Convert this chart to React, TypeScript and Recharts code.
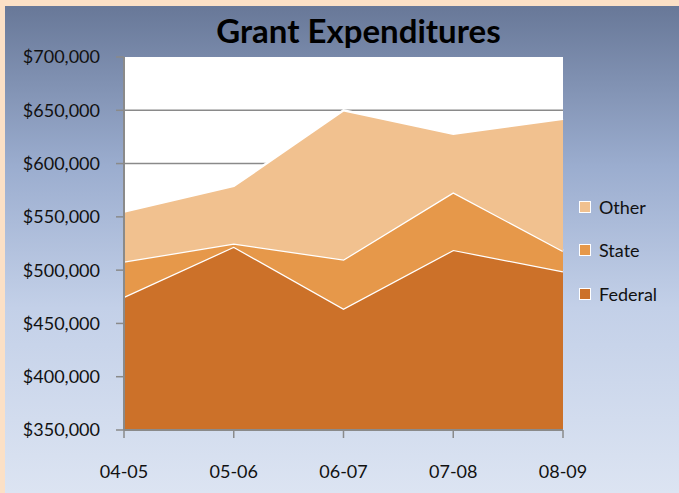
import { AreaChart, Area, XAxis, YAxis, CartesianGrid, Legend } from 'recharts';

const years = ['04-05', '05-06', '06-07', '07-08', '08-09'];
const federal = [475000, 522000, 464000, 519000, 499000];
const state = [33000, 3000, 46000, 54000, 19000];
const other = [47000, 54000, 140000, 55000, 124000];
const yTicks = [350000, 400000, 450000, 500000, 550000, 600000, 650000, 700000];

const data = years.map((year, i) => ({
  year,
  Federal: federal[i],
  State: state[i],
  Other: other[i],
}));

const colors: Record<string, string> = {
  Federal: '#CC7129',
  State: '#E6984A',
  Other: '#F1C18F',
};

const money = (v: number) => '$' + v.toLocaleString('en-US');

const LegendBox = () => (
  <div style={{ fontFamily: 'Lato, sans-serif', fontSize: 18, color: '#111' }}>
    {['Other', 'State', 'Federal'].map((name) => (
      <div key={name} style={{ display: 'flex', alignItems: 'center', height: 43.5 }}>
        <span
          style={{
            width: 10,
            height: 10,
            background: colors[name],
            border: '1px solid #fff',
            marginRight: 8,
          }}
        />
        {name}
      </div>
    ))}
  </div>
);

export default function App() {
  return (
    <div
      style={{
        position: 'fixed',
        left: 0,
        top: 0,
        width: 679,
        height: 493,
        background: '#FBE0C6',
        overflow: 'hidden',
        fontFamily: 'Lato, sans-serif',
      }}
    >
      <div
        style={{
          position: 'absolute',
          left: 5,
          top: 6,
          right: 0,
          bottom: 0,
          background: 'linear-gradient(to bottom, #687898 0%, #9badcf 33%, #c3d0e8 62%, #dce4f2 100%)',
        }}
      />
      <div
        style={{
          position: 'absolute',
          left: 0,
          width: 717,
          top: 10,
          textAlign: 'center',
          fontSize: 33,
          fontWeight: 700,
          color: '#000',
          lineHeight: '40px',
        }}
      >
        Grant Expenditures
      </div>
      <div style={{ position: 'absolute', left: 0, top: 0 }}>
        <AreaChart width={679} height={493} data={data} margin={{ top: 57, right: 116, bottom: 0, left: 0 }}>
          <CartesianGrid
            fill="#fff"
            vertical={false}
            stroke="#8a8a8a"
            strokeWidth={1.5}
            horizontalValues={[400000, 450000, 500000, 550000, 600000, 650000]}
          />
          <XAxis
            dataKey="year"
            height={63}
            tickSize={8}
            tickMargin={27}
            axisLine={{ stroke: '#8a8a8a', strokeWidth: 2 }}
            tickLine={{ stroke: '#8a8a8a', strokeWidth: 1.5 }}
            tick={{ fill: '#111', fontSize: 18 }}
          />
          <YAxis
            width={124}
            domain={[350000, 700000]}
            ticks={yTicks}
            tickFormatter={money}
            tickSize={8}
            tickMargin={16}
            axisLine={{ stroke: '#8a8a8a', strokeWidth: 2 }}
            tickLine={{ stroke: '#8a8a8a', strokeWidth: 1.5 }}
            tick={{ fill: '#111', fontSize: 18 }}
            allowDataOverflow
          />
          <Legend
            layout="horizontal"
            verticalAlign="middle"
            align="center"
            content={<LegendBox />}
            wrapperStyle={{ left: 579, top: 185, width: 100 }}
          />
          {['Federal', 'State', 'Other'].map((key) => (
            <Area
              key={key}
              type="linear"
              dataKey={key}
              stackId="a"
              fill={colors[key]}
              fillOpacity={1}
              stroke="#fff"
              strokeWidth={2.5}
              isAnimationActive={false}
            />
          ))}
        </AreaChart>
      </div>
    </div>
  );
}
